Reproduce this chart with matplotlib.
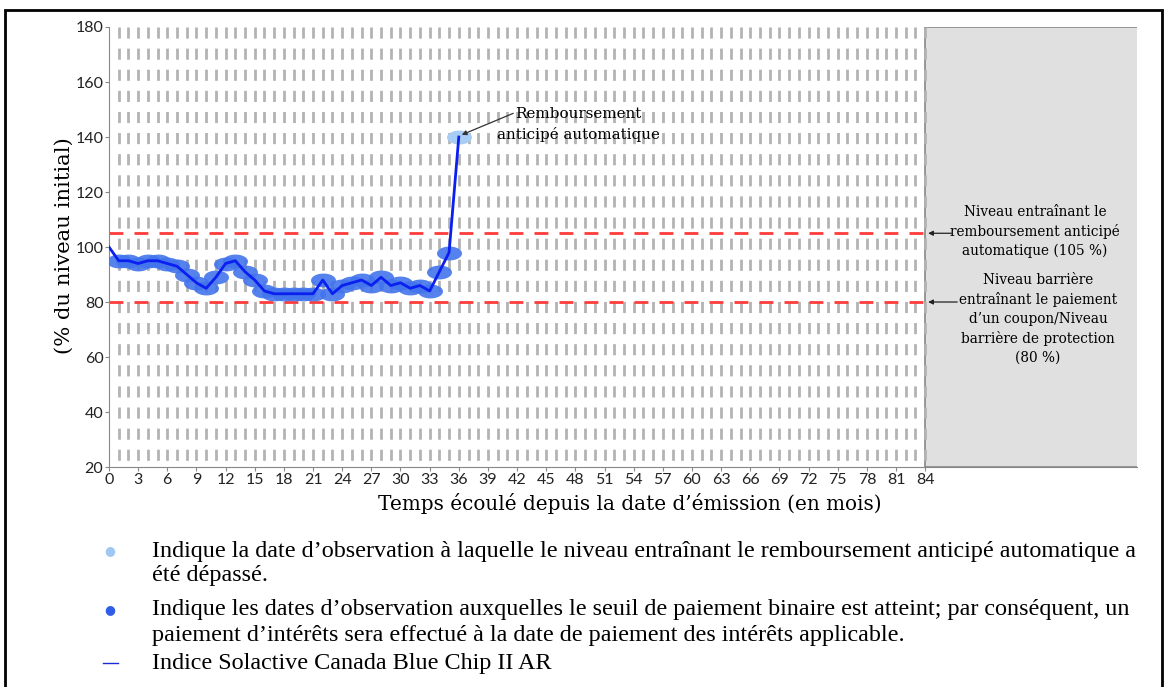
import numpy as np
import matplotlib.pyplot as plt
from matplotlib.patches import Rectangle
from matplotlib.path import Path
from matplotlib.lines import Line2D

# niveaux mensuels de l'indice (% du niveau initial)
mois = list(range(0, 37))
niveau = [100, 95, 95, 94, 95, 95, 94, 93, 90, 87, 85, 89, 94, 95, 91, 88, 84, 83, 83, 83,
          83, 83, 88, 83, 86, 87, 88, 86, 89, 86, 87, 85, 86, 84, 91, 98, 140]
mois_coupon = mois[1:36]
niveau_coupon = niveau[1:36]
mois_rappel = [36]
niveau_rappel = [140]

x_ticks = list(range(0, 85, 3))
y_ticks = list(range(20, 181, 20))
seuil_rappel = 105
seuil_barriere = 80

serif = ['DejaVu Serif']
times = ['Liberation Serif', 'DejaVu Serif']

fig = plt.figure(figsize=(11.67, 6.87), dpi=100)
ax = fig.add_axes([0.0934, 0.3202, 0.8809, 0.6405])

# petite ellipse pour les marqueurs
t = np.linspace(0, 2 * np.pi, 40)
ellipse = Path(np.column_stack([1.8 * np.cos(t), np.sin(t)]))

# lignes verticales pointillées à chaque mois (tracées du haut vers le bas)
ax.vlines(range(1, 85), 180, 20, colors='#b3b3b3', lw=2.0, linestyles=(0, (4.0, 3.6)), zorder=1)

ax.hlines([seuil_rappel, seuil_barriere], 0, 84, colors='#ff3b3b', lw=2, linestyles=(0, (5, 4)), zorder=2)

ax.plot(mois_coupon, niveau_coupon, ls='none', marker=ellipse, ms=18, color='#4274ec',
        alpha=0.9, mec='none', zorder=3)
ax.plot(mois_rappel, niveau_rappel, ls='none', marker=ellipse, ms=18, color='#a8cdf5',
        mec='none', zorder=3)
ax.plot(mois, niveau, color='#0a1ff0', lw=2, zorder=4)

ax.add_patch(Rectangle((84, 20), 30, 160, facecolor='#e0e0e0', edgecolor='#888888', lw=1.2, zorder=0.5))

ax.set_xlim(0, 105.8)
ax.set_ylim(20, 180)
ax.set_xticks(x_ticks)
ax.set_yticks(y_ticks)
ax.tick_params(labelsize=11.5, color='#888888', length=3, pad=1)
for lab in ax.get_xticklabels() + ax.get_yticklabels():
    lab.set_family(['Lato', 'DejaVu Sans'])
    lab.set_color('#222222')
for s in ['top', 'right']:
    ax.spines[s].set_visible(False)
for s in ['left', 'bottom']:
    ax.spines[s].set_color('#888888')


def fx(px):
    return px / 1167


def fy(py):
    return 1 - py / 687


fig.text(fx(64), fy(246), '(% du niveau initial)', family=serif, fontsize=15.2,
         rotation=90, ha='center', va='center')
fig.text(fx(630), fy(504), 'Temps écoulé depuis la date d\u2019émission (en mois)', family=serif,
         fontsize=14.4, ha='center', va='center')

ax.text(48.3, 144.7, 'Remboursement\nanticipé automatique', family=serif, fontsize=10.9,
        ha='center', va='center', linespacing=1.5)
ax.annotate('', xy=(36.3, 140.8), xytext=(41.6, 148.6),
            arrowprops=dict(arrowstyle='-|>', color='#333333', lw=0.9, mutation_scale=7,
                            shrinkA=0, shrinkB=0))

ax.text(95.3, 105.5, 'Niveau entraînant le\nremboursement anticipé\nautomatique (105 %)',
        family=serif, fontsize=9.8, ha='center', va='center', linespacing=1.42)
ax.text(95.6, 73.8, 'Niveau barrière\nentraînant le paiement\nd\u2019un coupon/Niveau\n'
        'barrière de protection\n(80 %)', family=serif, fontsize=9.8, ha='center',
        va='center', linespacing=1.42)
ax.annotate('', xy=(84.3, 105), xytext=(86.7, 105),
            arrowprops=dict(arrowstyle='-|>', color='#222222', lw=0.9, mutation_scale=7,
                            shrinkA=0, shrinkB=0))
ax.annotate('', xy=(84.3, 80), xytext=(87.3, 80),
            arrowprops=dict(arrowstyle='-|>', color='#222222', lw=0.9, mutation_scale=7,
                            shrinkA=0, shrinkB=0))

# cadre autour de la figure
fig.patches.append(Rectangle((fx(5), -0.1), 1157 / 1167, 1.1 - 10 / 687, transform=fig.transFigure,
                             fill=False, edgecolor='black', lw=2))

# légende sous le graphique
fig.text(fx(110), fy(551), '\u25cf', color='#9ec8f2', fontsize=9, ha='center', va='center')
fig.text(fx(110), fy(610), '\u25cf', color='#2f5de8', fontsize=9, ha='center', va='center')
fig.add_artist(Line2D([fx(103), fx(118)], [fy(663), fy(663)], color='#1a2cd0', lw=1))
leg_kw = dict(family=times, fontsize=17.4, va='center', ha='left')
fig.text(fx(152), fy(551), 'Indique la date d\u2019observation à laquelle le niveau entraînant le '
         'remboursement anticipé automatique a', **leg_kw)
fig.text(fx(152), fy(576), 'été dépassé.', **leg_kw)
fig.text(fx(152), fy(610), 'Indique les dates d\u2019observation auxquelles le seuil de paiement binaire '
         'est atteint; par conséquent, un', **leg_kw)
fig.text(fx(152), fy(635), 'paiement d\u2019intérêts sera effectué à la date de paiement des intérêts '
         'applicable.', **leg_kw)
fig.text(fx(152), fy(663), 'Indice Solactive Canada Blue Chip II AR', **leg_kw)

fig.savefig('out.png', dpi=100)
